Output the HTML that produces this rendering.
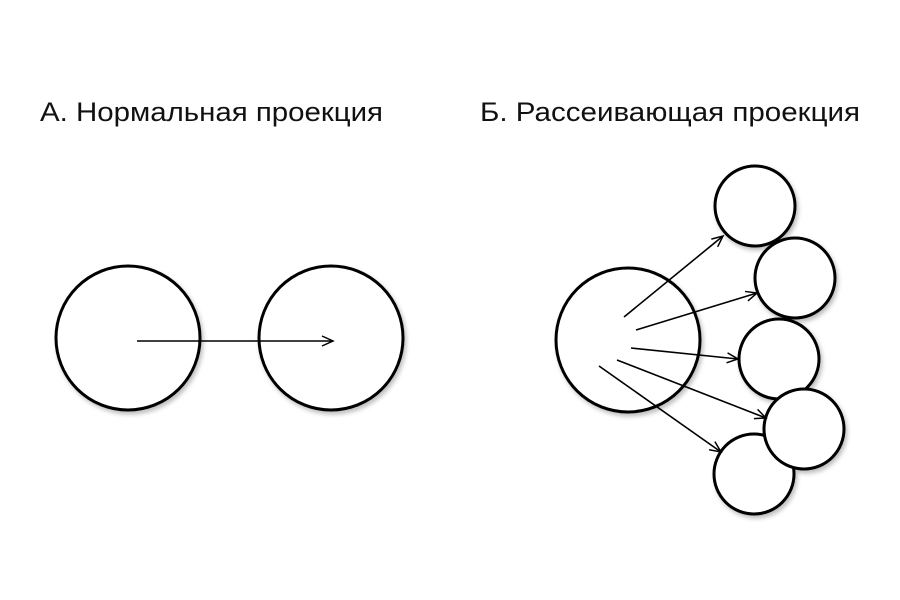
<!DOCTYPE html>
<html><head><meta charset="utf-8"><style>
body{margin:0;background:#fff}
svg{display:block}
text{font-family:"Liberation Sans","DejaVu Sans",sans-serif;font-size:27px;fill:#111}
</style></head><body>
<svg width="900" height="600" viewBox="0 0 900 600">
<defs>
<filter id="s" x="-20%" y="-20%" width="150%" height="150%"><feDropShadow dx="2" dy="3" stdDeviation="2" flood-color="#000" flood-opacity="0.25"/></filter>
<marker id="a" markerWidth="14" markerHeight="12" refX="12" refY="6" orient="auto" markerUnits="userSpaceOnUse"><path d="M1,1 L12,6 L1,11" fill="none" stroke="#000" stroke-width="1.5"/></marker>
</defs>
<text x="40" y="121" textLength="343" lengthAdjust="spacingAndGlyphs">А. Нормальная проекция</text>
<text x="480" y="121" textLength="380" lengthAdjust="spacingAndGlyphs">Б. Рассеивающая проекция</text>
<g fill="#fff" stroke="#000" stroke-width="3" filter="url(#s)">
<circle cx="128" cy="338" r="72"/>
<circle cx="331" cy="338" r="72"/>
<circle cx="628" cy="340" r="72"/>
<circle cx="755" cy="206" r="40"/>
<circle cx="795" cy="278" r="40"/>
<circle cx="779" cy="359" r="40"/>
<circle cx="754" cy="474" r="40"/>
<circle cx="804" cy="429" r="40"/>
</g>
<g stroke="#000" stroke-width="1.6" marker-end="url(#a)">
<line x1="137" y1="341" x2="333" y2="341"/>
<line x1="624" y1="317" x2="723" y2="236"/>
<line x1="636" y1="330" x2="757" y2="293"/>
<line x1="631" y1="348" x2="738" y2="359"/>
<line x1="617" y1="360" x2="766" y2="418"/>
<line x1="599" y1="366" x2="721" y2="452"/>
</g>
</svg>
</body></html>
